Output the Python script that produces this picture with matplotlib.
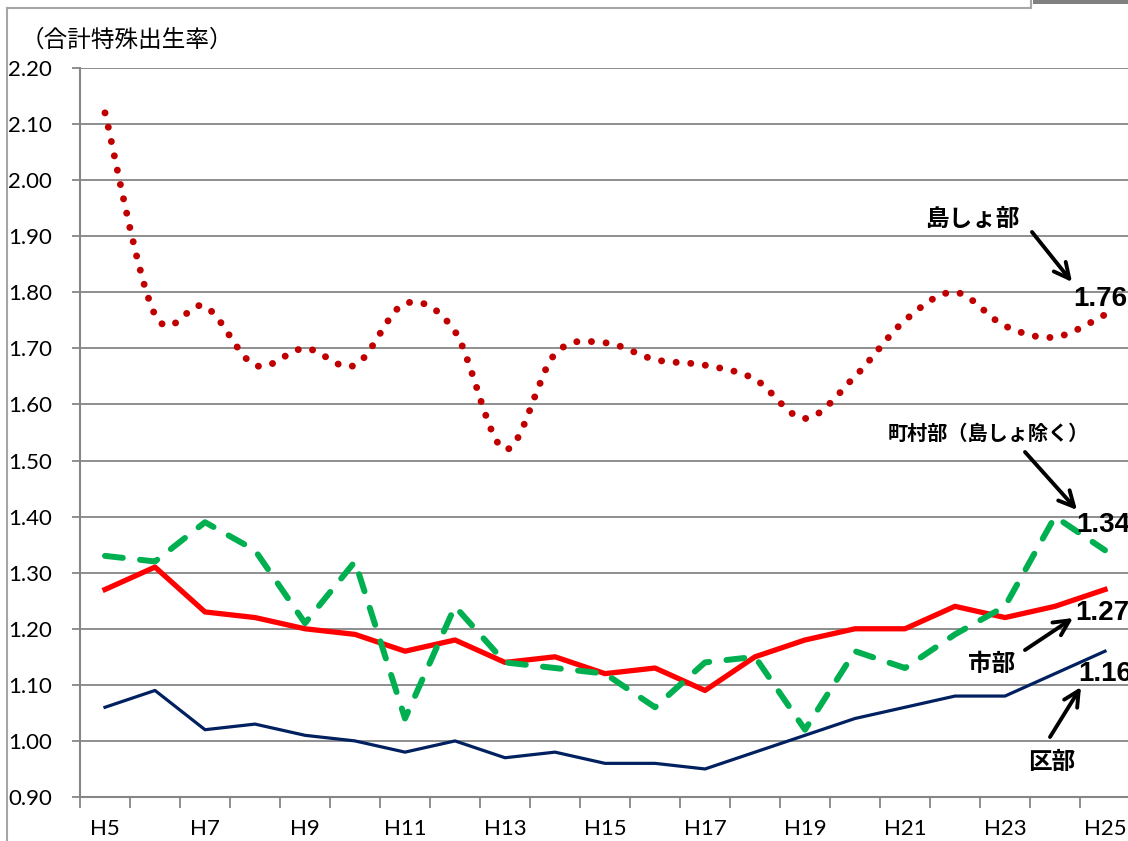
import numpy as np
import matplotlib
matplotlib.use('Agg')
import matplotlib.pyplot as plt
from matplotlib.path import Path
from matplotlib.patches import PathPatch, Rectangle
from matplotlib.lines import Line2D

years = ['H5', 'H6', 'H7', 'H8', 'H9', 'H10', 'H11', 'H12', 'H13', 'H14', 'H15',
         'H16', 'H17', 'H18', 'H19', 'H20', 'H21', 'H22', 'H23', 'H24', 'H25']
# 区部
ku = [1.06, 1.09, 1.02, 1.03, 1.01, 1.00, 0.98, 1.00, 0.97, 0.98, 0.96,
      0.96, 0.95, 0.98, 1.01, 1.04, 1.06, 1.08, 1.08, 1.12, 1.16]
# 市部
shi = [1.27, 1.31, 1.23, 1.22, 1.20, 1.19, 1.16, 1.18, 1.14, 1.15, 1.12,
       1.13, 1.09, 1.15, 1.18, 1.20, 1.20, 1.24, 1.22, 1.24, 1.27]
# 町村部（島しょ除く）
chouson = [1.33, 1.32, 1.39, 1.34, 1.21, 1.32, 1.04, 1.24, 1.14, 1.13, 1.12,
           1.06, 1.14, 1.15, 1.02, 1.16, 1.13, 1.19, 1.24, 1.40, 1.34]
# 島しょ部
tousho = [2.12, 1.76, 1.775, 1.67, 1.70, 1.67, 1.78, 1.73, 1.52, 1.69, 1.71,
          1.68, 1.67, 1.645, 1.575, 1.65, 1.75, 1.80, 1.74, 1.72, 1.76]

W, H = 1128, 841
GRID = '#868686'
JP = ['Noto Sans CJK JP', 'DejaVu Sans']


def fx(x):
    return x / W


def fy(y):
    return 1 - y / H


def smooth_path(xs, ys):
    # excel風の平滑線（ベジェ）
    pts = np.column_stack([xs, ys]).astype(float)
    n = len(pts)
    verts = [pts[0]]
    codes = [Path.MOVETO]
    for i in range(n - 1):
        p0 = pts[max(i - 1, 0)]
        p1 = pts[i]
        p2 = pts[i + 1]
        p3 = pts[min(i + 2, n - 1)]
        verts += [p1 + (p2 - p0) / 6, p2 - (p3 - p1) / 6, p2]
        codes += [Path.CURVE4] * 3
    return Path(verts, codes)


fig = plt.figure(figsize=(W / 100, H / 100), dpi=100)
ax = fig.add_axes([fx(80), 44 / H, 1050 / W, 729 / H])

x = np.arange(len(years))
ax.plot(x, ku, color='#002060', lw=2.3, zorder=3)
ax.plot(x, shi, color='#FF0000', lw=3.8, zorder=4)
ax.plot(x, chouson, color='#00B050', lw=4.3, linestyle=(0, (3.0, 2.9)),
        dash_capstyle='round', zorder=5)
ax.add_patch(PathPatch(smooth_path(x, tousho), fill=False, edgecolor='#C00000',
                       lw=5, linestyle=(0, (0.01, 2.1)), capstyle='round', zorder=6))

ax.set_xlim(-0.5, 20.5)
ax.set_ylim(0.9, 2.2)
yt = np.arange(0.9, 2.2001, 0.1)
ax.set_yticks(yt)
ax.set_yticklabels([f'{v:.2f}' for v in yt], fontsize=16, family='Lato')
ax.yaxis.grid(True, color=GRID, lw=1.3)
ax.set_axisbelow(True)
ax.tick_params(axis='y', length=6, color=GRID, width=1.3, pad=14)

ax.set_xticks(np.arange(-0.5, 21, 1))
ax.set_xticks(x[::2], minor=True)
ax.set_xticklabels(years[::2], minor=True, fontsize=16, family='Lato')
ax.tick_params(axis='x', which='major', length=8, color=GRID, width=1.3, labelbottom=False)
ax.tick_params(axis='x', which='minor', length=0, pad=16)

for s in ['top', 'right']:
    ax.spines[s].set_visible(False)
for s in ['left', 'bottom']:
    ax.spines[s].set_color(GRID)
    ax.spines[s].set_linewidth(1.5)

fig.text(fx(21), fy(40), '（合計特殊出生率）', family=JP, fontsize=17,
         ha='left', va='center')

labels = [('島しょ部', 972, 219, 17), ('町村部（島しょ除く）', 988, 433, 14.5),
          ('市部', 992, 664, 17), ('区部', 1052, 762, 17)]
for t, px, py, fs in labels:
    fig.text(fx(px), fy(py), t, family=JP, fontsize=fs, fontweight='bold',
             ha='center', va='center')

values = [('1.76', 1073, 299), ('1.34', 1076, 525), ('1.27', 1075, 613), ('1.16', 1078, 674)]
for t, px, py in values:
    fig.text(fx(px), fy(py), t, family='Liberation Sans', fontsize=20,
             fontweight='bold', ha='left', va='center')

arrows = [((1032, 232), (1072, 282)), ((1025, 452), (1077, 510)),
          ((1025, 650), (1073, 618)), ((1050, 737), (1081, 687))]
for (x0, y0), (x1, y1) in arrows:
    ax.annotate('', xy=(fx(x1), fy(y1)), xytext=(fx(x0), fy(y0)),
                xycoords='figure fraction', textcoords='figure fraction',
                arrowprops=dict(arrowstyle='->,head_length=1.1,head_width=0.55',
                                lw=2.8, color='black', shrinkA=0, shrinkB=0))

# 枠線
fig.add_artist(Line2D([fx(7), fx(7)], [0, fy(8)], transform=fig.transFigure,
                      color='#a6a6a6', lw=1.5))
fig.add_artist(Line2D([fx(7), fx(1031)], [fy(8), fy(8)], transform=fig.transFigure,
                      color='#a6a6a6', lw=1.5))
fig.add_artist(Line2D([fx(1031), fx(1031)], [fy(8), 1], transform=fig.transFigure,
                      color='#a6a6a6', lw=1.5))
fig.add_artist(Rectangle((fx(1033), fy(4)), 1 - fx(1033), 4 / H, transform=fig.transFigure,
                         color='#808080', lw=0))

fig.savefig('out.png', dpi=100)
